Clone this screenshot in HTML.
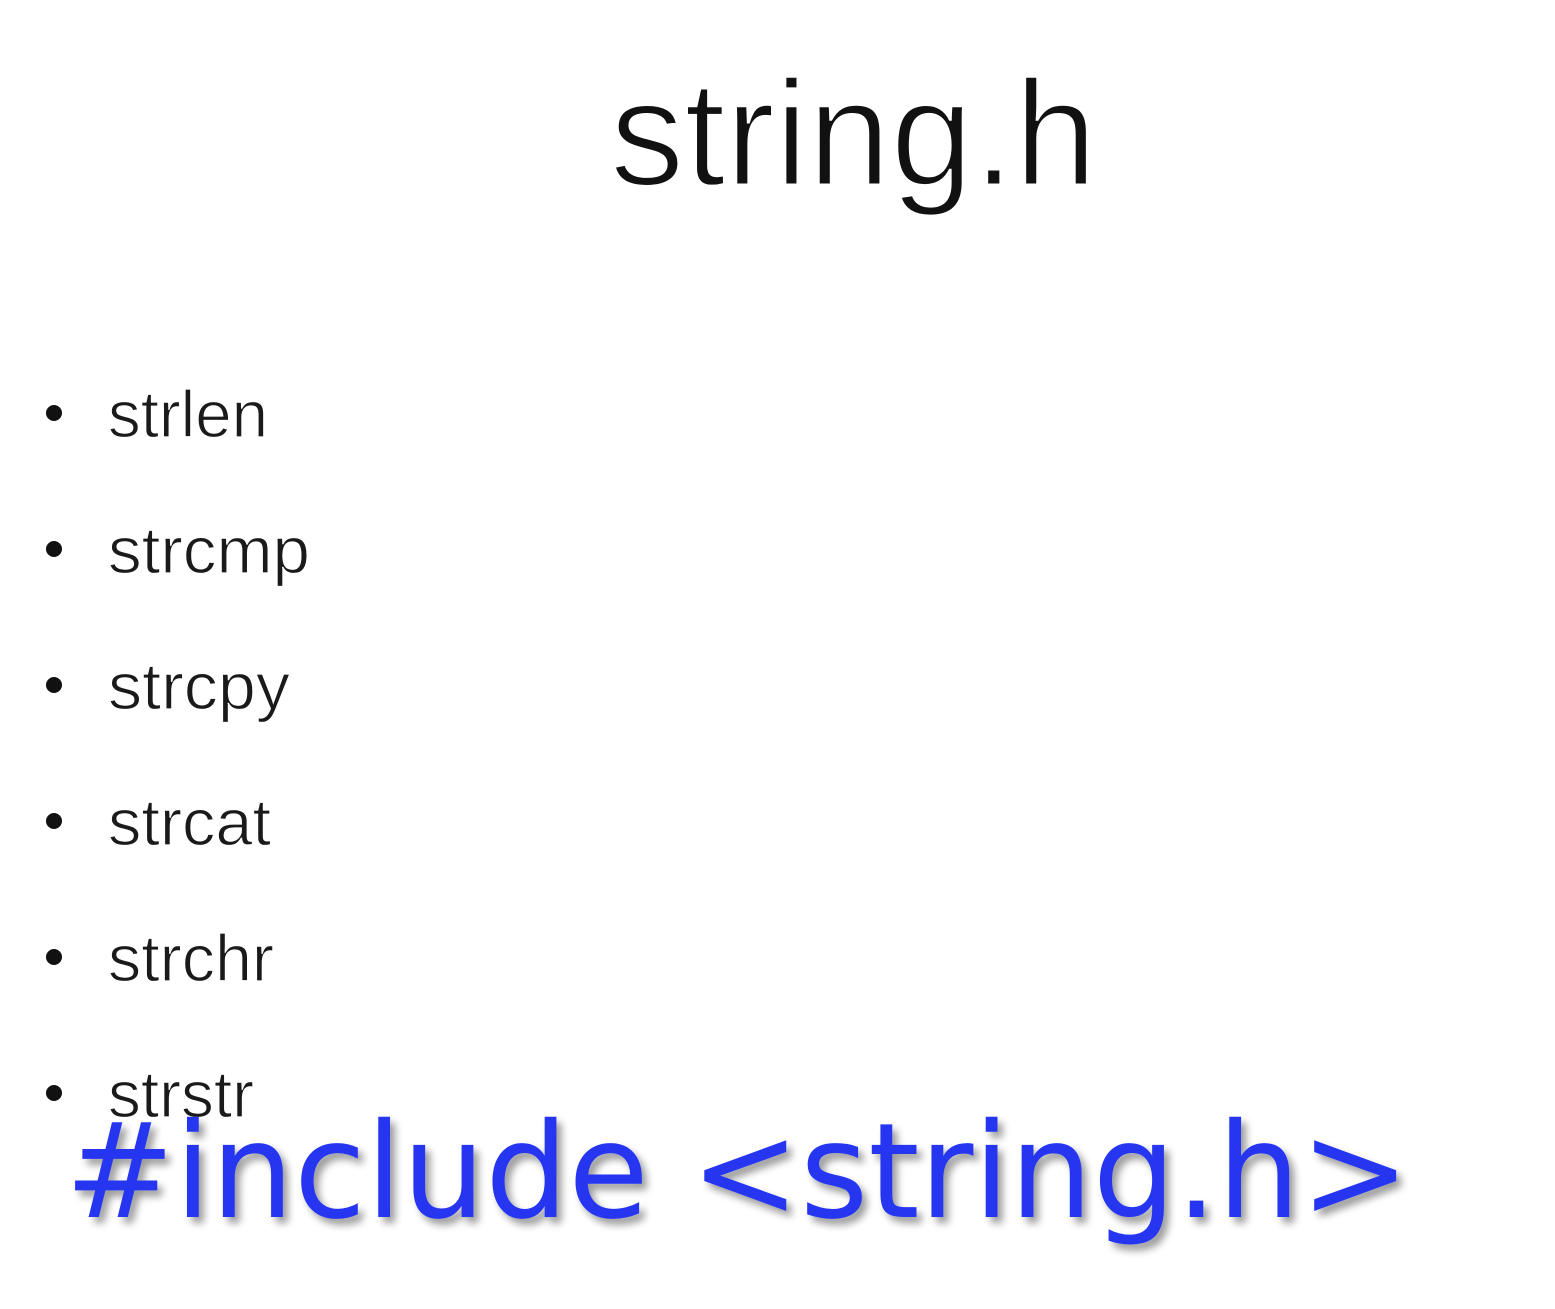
<!DOCTYPE html>
<html><head><meta charset="utf-8"><style>
html,body{margin:0;padding:0;background:#fff;}
svg{display:block;}
</style></head><body>
<svg width="1555" height="1309" viewBox="0 0 1555 1309" xmlns="http://www.w3.org/2000/svg">
<defs>
<filter id="sh" x="-5%" y="-20%" width="110%" height="140%">
<feGaussianBlur in="SourceAlpha" stdDeviation="4"/>
<feOffset dx="5" dy="6" result="b"/>
<feComponentTransfer><feFuncA type="linear" slope="0.4"/></feComponentTransfer>
<feMerge><feMergeNode/><feMergeNode in="SourceGraphic"/></feMerge>
</filter>
</defs>
<rect width="1555" height="1309" fill="#fff"/>
<text x="610" y="185" font-family="Liberation Sans, sans-serif" font-size="150" fill="#111" stroke="#fff" stroke-width="3" textLength="487" lengthAdjust="spacingAndGlyphs">string.h</text>
<g font-family="Liberation Sans, sans-serif" font-size="66" fill="#1a1a1a" stroke="#fff" stroke-width="1.2">
<text x="108" y="437" textLength="160" lengthAdjust="spacingAndGlyphs">strlen</text>
<text x="108" y="573" textLength="202" lengthAdjust="spacingAndGlyphs">strcmp</text>
<text x="108" y="709" textLength="182" lengthAdjust="spacingAndGlyphs">strcpy</text>
<text x="108" y="845" textLength="163" lengthAdjust="spacingAndGlyphs">strcat</text>
<text x="108" y="981" textLength="166" lengthAdjust="spacingAndGlyphs">strchr</text>
<text x="108" y="1117" textLength="146" lengthAdjust="spacingAndGlyphs">strstr</text>
</g>
<g fill="#111">
<circle cx="54" cy="413" r="8"/><circle cx="54" cy="549" r="8"/><circle cx="54" cy="685" r="8"/>
<circle cx="54" cy="821" r="8"/><circle cx="54" cy="957" r="8"/><circle cx="54" cy="1093" r="8"/>
</g>
<text x="65" y="1217" font-family="DejaVu Sans, Liberation Sans, sans-serif" font-size="132" fill="#2536f0" filter="url(#sh)" textLength="1345" lengthAdjust="spacingAndGlyphs">#include &lt;string.h&gt;</text>
</svg>
</body></html>
